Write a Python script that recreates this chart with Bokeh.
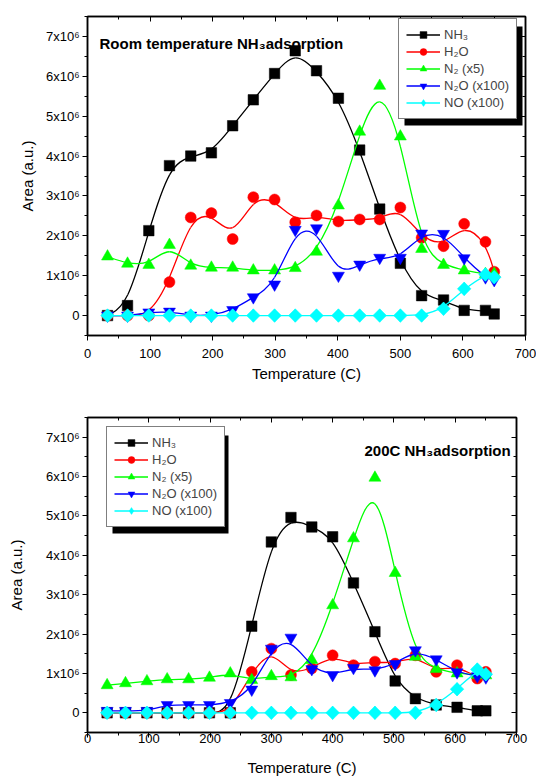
import numpy as np
from bokeh.plotting import figure
from bokeh.models import (Legend, LegendItem, LinearAxis, SingleIntervalTicker,
                          CustomJSTickFormatter, Label, BoxAnnotation, Range1d)
from bokeh.layouts import column
from bokeh.embed import file_html
from bokeh.resources import INLINE

# ---------------- data (areas in units of 1e6) ----------------
series_names = ["NH\u2083", "H\u2082O", "N\u2082 (x5)", "N\u2082O (x100)", "NO (x100)"]
series_colors = ["#000000", "#FF0000", "#00FF00", "#0000FF", "#00FFFF"]

# Room temperature NH3 adsorption
rt_temp = [32, 64, 98, 131, 165, 198, 232, 265, 299, 332, 366, 401, 435, 467, 500, 534, 569, 602, 636, 650]
rt_nh3 = [0.0, 0.25, 2.13, 3.76, 4.00, 4.08, 4.76, 5.41, 6.07, 6.64, 6.14, 5.45, 4.15, 2.67, 1.31, 0.50, 0.39, 0.13, 0.13, 0.04]
rt_h2o = [0.0, 0.0, 0.0, 0.84, 2.46, 2.57, 1.92, 2.97, 2.91, 2.34, 2.51, 2.36, 2.41, 2.41, 2.71, 1.95, 1.74, 2.30, 1.85, 1.10]
rt_n2 = [1.48, 1.30, 1.27, 1.77, 1.25, 1.20, 1.20, 1.13, 1.13, 1.19, 1.60, 2.76, 4.61, 5.76, 4.49, 1.67, 1.27, 1.13, 1.04, 1.05]
rt_n2o = [0.0, 0.0, 0.08, 0.10, 0.0, 0.0, 0.14, 0.46, 0.78, 2.15, 2.19, 1.00, 1.28, 1.45, 1.45, 2.06, 2.05, 1.44, 0.96, 0.89]
rt_no = [0.0, 0.0, 0.0, 0.0, 0.0, 0.0, 0.0, 0.0, 0.0, 0.0, 0.0, 0.0, 0.0, 0.0, 0.0, 0.0, 0.17, 0.67, 1.03, 0.96]

# 200C NH3 adsorption
ht_temp = [32, 62, 97, 130, 165, 199, 233, 268, 300, 332, 366, 400, 434, 469, 502, 535, 569, 603, 636, 650]
ht_nh3 = [0.0, 0.0, 0.0, 0.0, 0.0, 0.0, 0.0, 2.20, 4.34, 4.96, 4.72, 4.47, 3.30, 2.06, 0.81, 0.36, 0.20, 0.14, 0.05, 0.05]
ht_h2o = [0.0, 0.0, 0.0, 0.0, 0.0, 0.0, 0.0, 1.04, 1.63, 0.96, 1.13, 1.46, 1.21, 1.30, 1.25, 1.46, 1.04, 1.21, 0.87, 1.04]
ht_n2 = [0.70, 0.75, 0.80, 0.85, 0.85, 0.89, 1.00, 0.83, 0.93, 0.90, 1.34, 2.73, 4.43, 5.97, 3.55, 1.42, 1.11, 1.00, 0.96, 0.95]
ht_n2o = [0.05, 0.05, 0.05, 0.20, 0.20, 0.20, 0.25, 0.59, 1.63, 1.91, 1.11, 0.96, 1.14, 1.08, 1.24, 1.59, 1.36, 1.03, 0.93, 0.90]
ht_no = [0.0, 0.0, 0.0, 0.0, 0.0, 0.0, 0.0, 0.0, 0.0, 0.0, 0.0, 0.0, 0.0, 0.0, 0.0, 0.0, 0.20, 0.60, 1.10, 0.98]

x_ticks_interval = 100
y_ticks_interval = 1
X_RANGE = (0, 700)
Y_RANGE = (-0.5, 7.5)

FONT = "Liberation Sans"
MARKERS = [("square", 10.5), ("circle", 11), ("triangle", 12),
           ("inverted_triangle", 12), ("diamond", 13)]
RHOMB_PX = 6.8  # half-size (px) of the square-rotated NO marker


def bspline_bezier(xs, ys):
    """Control points of a clamped uniform cubic B-spline (Origin 'B-Spline'
    connection) expressed as cubic Bezier segments for Bokeh's bezier glyph."""
    X = np.array([xs[0]] * 2 + list(xs) + [xs[-1]] * 2, dtype=float)
    Y = np.array([ys[0]] * 2 + list(ys) + [ys[-1]] * 2, dtype=float)
    seg = dict(x0=[], y0=[], x1=[], y1=[], cx0=[], cy0=[], cx1=[], cy1=[])
    for i in range(1, len(X) - 2):
        for P, k in ((X, "x"), (Y, "y")):
            seg[k + "0"].append((P[i - 1] + 4 * P[i] + P[i + 1]) / 6)
            seg["c" + k + "0"].append((2 * P[i] + P[i + 1]) / 3)
            seg["c" + k + "1"].append((P[i] + 2 * P[i + 1]) / 3)
            seg[k + "1"].append((P[i] + 4 * P[i + 1] + P[i + 2]) / 6)
    return seg


def make_fig(temps, values, title, title_pos, leg_pos, leg_size, fw, fh, borders,
             xtick_standoff, xlabel_standoff, ylabel_standoff):
    bl, br, bt, bb = borders
    p = figure(frame_width=fw, frame_height=fh, x_range=Range1d(*X_RANGE),
               y_range=Range1d(*Y_RANGE), output_backend="svg",
               toolbar_location=None, min_border_left=bl, min_border_right=br,
               min_border_top=bt, min_border_bottom=bb,
               background_fill_color="white", border_fill_color="white")
    p.xgrid.grid_line_color = None
    p.ygrid.grid_line_color = None
    p.outline_line_color = "black"
    p.outline_line_width = 1.5

    xt = SingleIntervalTicker(interval=x_ticks_interval, num_minor_ticks=2)
    yt = SingleIntervalTicker(interval=y_ticks_interval, num_minor_ticks=2)
    fmt = CustomJSTickFormatter(code="return tick == 0 ? '0' : tick.toFixed(0) + 'x10\u2076';")

    xa = p.xaxis[0]
    xa.ticker = xt
    xa.axis_label = "Temperature (C)"
    xa.major_label_standoff = xtick_standoff
    xa.axis_label_standoff = xlabel_standoff
    ya = p.yaxis[0]
    ya.ticker = yt
    ya.formatter = fmt
    ya.axis_label = "Area (a.u.)"
    ya.major_label_standoff = 3
    ya.axis_label_standoff = ylabel_standoff
    for ax in (xa, ya):
        ax.axis_line_width = 1.5
        ax.axis_line_color = "black"
        ax.major_tick_in = 0
        ax.major_tick_out = 5
        ax.minor_tick_in = 0
        ax.minor_tick_out = 3
        ax.major_tick_line_color = "black"
        ax.minor_tick_line_color = "black"
        ax.major_label_text_font = FONT
        ax.major_label_text_font_size = "13px"
        ax.major_label_text_color = "black"
        ax.axis_label_text_font = FONT
        ax.axis_label_text_font_size = "15px"
        ax.axis_label_text_font_style = "normal"
        ax.axis_label_text_color = "black"

    blank = CustomJSTickFormatter(code="return '';")
    for loc, tk in (("above", xt), ("right", yt)):
        ax = LinearAxis(ticker=tk, formatter=blank, major_label_text_font_size="1px",
                        major_label_standoff=0, major_tick_in=5, major_tick_out=0,
                        minor_tick_in=3, minor_tick_out=0, axis_line_width=1.5,
                        axis_line_color="black")
        p.add_layout(ax, loc)

    # pixel -> data unit conversion for the rhombus markers
    dx = RHOMB_PX * (X_RANGE[1] - X_RANGE[0]) / fw
    dy = RHOMB_PX * (Y_RANGE[1] - Y_RANGE[0]) / fh

    items = []
    for name, color, vals, (mk, sz) in zip(series_names, series_colors, values, MARKERS):
        seg = bspline_bezier(temps, vals)
        r_line = p.bezier(line_color=color, line_width=1.3, **seg)
        r_pts = p.scatter(x=temps, y=vals, marker=mk, size=sz,
                          fill_color=color, line_color=color, line_width=0.5)
        if mk == "diamond":
            xs = [[t - dx, t, t + dx, t] for t in temps]
            ys = [[v, v + dy, v, v - dy] for v in vals]
            p.patches(xs=xs, ys=ys, fill_color=color, line_color=color, line_width=0.5)
        items.append(LegendItem(label=name, renderers=[r_line, r_pts]))

    lx, ly = leg_pos
    lw, lh = leg_size
    shadow = BoxAnnotation(left=lx + 6, right=lx + lw + 6, bottom=ly - 6, top=ly + lh - 6,
                           left_units="screen", right_units="screen",
                           bottom_units="screen", top_units="screen",
                           fill_color="black", fill_alpha=1.0, line_color=None)
    p.add_layout(shadow)

    legend = Legend(items=items, location=(lx, ly), margin=0, padding=7,
                    spacing=0, glyph_width=34, glyph_height=17, label_height=17,
                    label_standoff=4, label_text_font=FONT, label_text_font_size="13px",
                    border_line_color="black", border_line_width=1.5,
                    background_fill_color="white", background_fill_alpha=1.0)
    p.add_layout(legend, "center")

    tx, ty = title_pos
    p.add_layout(Label(x=tx, y=ty, x_units="screen", y_units="screen", text=title,
                       text_font=FONT, text_font_style="bold", text_font_size="15px",
                       text_baseline="alphabetic", text_color="black"))
    return p


p1 = make_fig(rt_temp, [rt_nh3, rt_h2o, rt_n2, rt_n2o, rt_no],
              "Room temperature NH\u2083adsorption", (12, 292), (311, 216), (118, 99),
              438, 319, (87, 11, 16, 65), 8, 4, 7)
p2 = make_fig(ht_temp, [ht_nh3, ht_h2o, ht_n2, ht_n2o, ht_no],
              "200C NH\u2083adsorption", (277, 282), (19, 205), (116, 98),
              429, 315, (87, 20, 17, 44), -4, 13, 18)

layout = column(p1, p2, spacing=0)
with open("out.html", "w", encoding="utf-8") as f:
    f.write(file_html(layout, INLINE))
